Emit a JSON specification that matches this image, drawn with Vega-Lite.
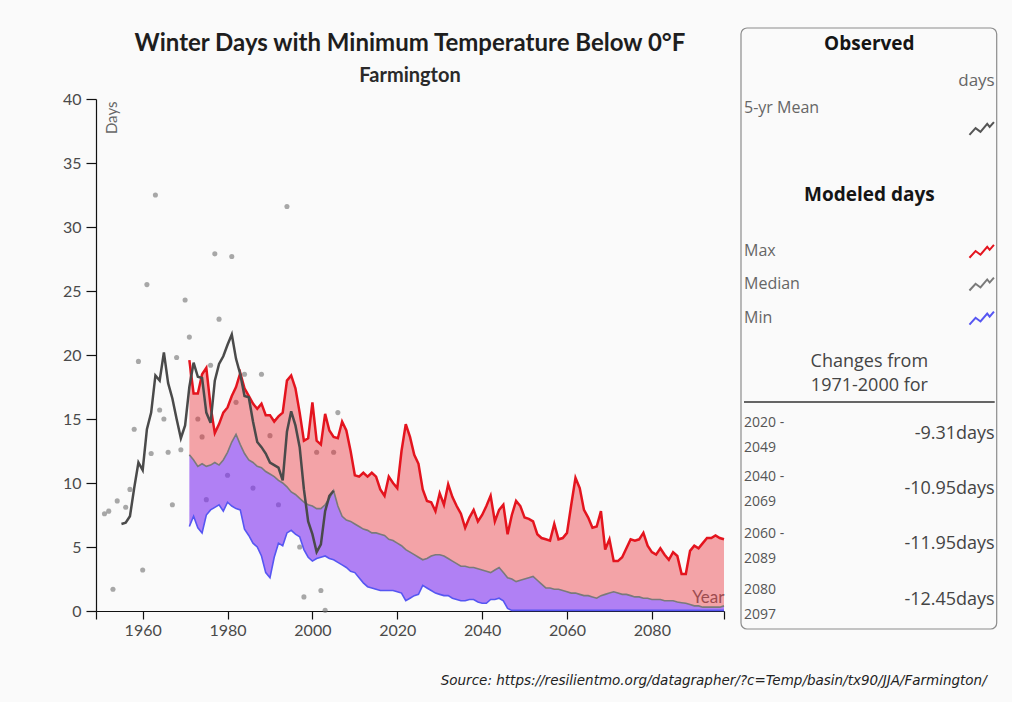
{
  "$schema": "https://vega.github.io/schema/vega-lite/v6.json",
  "background": "#fafafa",
  "padding": {"left": 62, "top": 27, "right": 14, "bottom": 14},
  "width": 628,
  "height": 512,
  "title": {
    "text": "Winter Days with Minimum Temperature Below 0°F",
    "subtitle": "Farmington",
    "anchor": "middle",
    "font": "Lato", "fontSize": 24, "fontWeight": "bold", "color": "#1e1e1e",
    "subtitleFont": "Lato", "subtitleFontSize": 20, "subtitleFontWeight": "bold", "subtitleColor": "#2a2a2a",
    "subtitlePadding": 10, "offset": -59
  },
  "datasets": {
    "obs": [
      {"year": 1951, "days": 7.6}, {"year": 1952, "days": 7.8}, {"year": 1953, "days": 1.7}, {"year": 1954, "days": 8.6},
      {"year": 1956, "days": 8.1}, {"year": 1957, "days": 9.5}, {"year": 1958, "days": 14.2}, {"year": 1959, "days": 19.5},
      {"year": 1960, "days": 3.2}, {"year": 1961, "days": 25.5}, {"year": 1962, "days": 12.3}, {"year": 1963, "days": 32.5},
      {"year": 1964, "days": 15.7}, {"year": 1965, "days": 15.0}, {"year": 1966, "days": 12.4}, {"year": 1967, "days": 8.3},
      {"year": 1968, "days": 19.8}, {"year": 1969, "days": 12.6}, {"year": 1970, "days": 24.3}, {"year": 1971, "days": 21.4},
      {"year": 1973, "days": 15.0}, {"year": 1974, "days": 13.6}, {"year": 1975, "days": 8.7}, {"year": 1976, "days": 19.2},
      {"year": 1977, "days": 27.9}, {"year": 1978, "days": 22.8}, {"year": 1980, "days": 10.6}, {"year": 1981, "days": 27.7},
      {"year": 1982, "days": 16.3}, {"year": 1984, "days": 18.5}, {"year": 1986, "days": 9.6}, {"year": 1988, "days": 18.5},
      {"year": 1990, "days": 13.7}, {"year": 1992, "days": 8.3}, {"year": 1994, "days": 31.6}, {"year": 1997, "days": 5.0},
      {"year": 1998, "days": 1.1}, {"year": 2001, "days": 12.4}, {"year": 2002, "days": 1.6}, {"year": 2003, "days": 0.05},
      {"year": 2005, "days": 12.4}, {"year": 2006, "days": 15.5}
    ],
    "mean5": [
      {"year": 1955, "days": 6.8}, {"year": 1956, "days": 6.9}, {"year": 1957, "days": 7.4}, {"year": 1958, "days": 9.6},
      {"year": 1959, "days": 11.6}, {"year": 1960, "days": 11.0}, {"year": 1961, "days": 14.2}, {"year": 1962, "days": 15.5},
      {"year": 1963, "days": 18.4}, {"year": 1964, "days": 18.0}, {"year": 1965, "days": 20.2}, {"year": 1966, "days": 17.8},
      {"year": 1967, "days": 16.6}, {"year": 1968, "days": 15.0}, {"year": 1969, "days": 13.5}, {"year": 1970, "days": 14.5},
      {"year": 1971, "days": 17.5}, {"year": 1972, "days": 19.4}, {"year": 1973, "days": 18.3}, {"year": 1974, "days": 18.2},
      {"year": 1975, "days": 15.5}, {"year": 1976, "days": 14.7}, {"year": 1977, "days": 18.0}, {"year": 1978, "days": 19.3},
      {"year": 1979, "days": 19.9}, {"year": 1980, "days": 20.8}, {"year": 1981, "days": 21.6}, {"year": 1982, "days": 19.7},
      {"year": 1983, "days": 18.5}, {"year": 1984, "days": 16.8}, {"year": 1985, "days": 16.7}, {"year": 1986, "days": 14.8},
      {"year": 1987, "days": 13.2}, {"year": 1988, "days": 12.8}, {"year": 1989, "days": 12.3}, {"year": 1990, "days": 11.6},
      {"year": 1991, "days": 11.4}, {"year": 1992, "days": 11.2}, {"year": 1993, "days": 10.2}, {"year": 1994, "days": 14.0},
      {"year": 1995, "days": 15.6}, {"year": 1996, "days": 14.5}, {"year": 1997, "days": 12.8}, {"year": 1998, "days": 9.5},
      {"year": 1999, "days": 7.0}, {"year": 2000, "days": 6.0}, {"year": 2001, "days": 4.6}, {"year": 2002, "days": 5.2},
      {"year": 2003, "days": 7.8}, {"year": 2004, "days": 9.0}, {"year": 2005, "days": 9.4}
    ],
    "model": [
      {"year": 1971, "min": 6.6, "median": 12.2, "max": 19.6},
      {"year": 1972, "min": 7.4, "median": 11.8, "max": 17.0},
      {"year": 1973, "min": 6.5, "median": 11.3, "max": 17.0},
      {"year": 1974, "min": 6.1, "median": 11.5, "max": 18.5},
      {"year": 1975, "min": 7.5, "median": 11.3, "max": 19.0},
      {"year": 1976, "min": 7.9, "median": 11.4, "max": 16.0},
      {"year": 1977, "min": 8.1, "median": 11.6, "max": 13.9},
      {"year": 1978, "min": 8.3, "median": 11.4, "max": 14.6},
      {"year": 1979, "min": 7.8, "median": 11.8, "max": 15.5},
      {"year": 1980, "min": 8.5, "median": 12.4, "max": 15.9},
      {"year": 1981, "min": 8.2, "median": 13.2, "max": 16.8},
      {"year": 1982, "min": 8.0, "median": 13.8, "max": 17.5},
      {"year": 1983, "min": 7.9, "median": 13.0, "max": 18.6},
      {"year": 1984, "min": 6.4, "median": 12.3, "max": 17.4},
      {"year": 1985, "min": 5.9, "median": 11.8, "max": 16.8},
      {"year": 1986, "min": 5.3, "median": 11.6, "max": 16.2},
      {"year": 1987, "min": 5.0, "median": 11.3, "max": 15.8},
      {"year": 1988, "min": 4.3, "median": 11.2, "max": 16.2},
      {"year": 1989, "min": 3.0, "median": 10.9, "max": 15.3},
      {"year": 1990, "min": 2.6, "median": 10.7, "max": 15.3},
      {"year": 1991, "min": 4.2, "median": 10.5, "max": 14.8},
      {"year": 1992, "min": 5.3, "median": 10.2, "max": 15.2},
      {"year": 1993, "min": 5.1, "median": 10.0, "max": 15.5},
      {"year": 1994, "min": 6.1, "median": 9.7, "max": 18.0},
      {"year": 1995, "min": 6.3, "median": 9.3, "max": 18.4},
      {"year": 1996, "min": 6.0, "median": 9.1, "max": 17.4},
      {"year": 1997, "min": 5.8, "median": 8.8, "max": 15.5},
      {"year": 1998, "min": 4.8, "median": 8.5, "max": 13.3},
      {"year": 1999, "min": 4.2, "median": 8.3, "max": 13.5},
      {"year": 2000, "min": 3.9, "median": 8.2, "max": 16.3},
      {"year": 2001, "min": 4.1, "median": 8.0, "max": 13.3},
      {"year": 2002, "min": 4.2, "median": 8.0, "max": 13.0},
      {"year": 2003, "min": 4.3, "median": 8.3, "max": 15.4},
      {"year": 2004, "min": 4.1, "median": 8.8, "max": 14.1},
      {"year": 2005, "min": 4.0, "median": 9.4, "max": 13.6},
      {"year": 2006, "min": 3.8, "median": 8.2, "max": 13.5},
      {"year": 2007, "min": 3.6, "median": 7.4, "max": 14.8},
      {"year": 2008, "min": 3.4, "median": 7.1, "max": 14.1},
      {"year": 2009, "min": 3.1, "median": 7.0, "max": 12.5},
      {"year": 2010, "min": 3.0, "median": 6.8, "max": 10.6},
      {"year": 2011, "min": 2.6, "median": 6.6, "max": 10.5},
      {"year": 2012, "min": 2.2, "median": 6.4, "max": 10.8},
      {"year": 2013, "min": 1.9, "median": 6.3, "max": 10.5},
      {"year": 2014, "min": 1.8, "median": 6.1, "max": 10.8},
      {"year": 2015, "min": 1.7, "median": 6.1, "max": 10.5},
      {"year": 2016, "min": 1.6, "median": 6.0, "max": 9.5},
      {"year": 2017, "min": 1.6, "median": 5.9, "max": 9.0},
      {"year": 2018, "min": 1.6, "median": 5.6, "max": 10.5},
      {"year": 2019, "min": 1.6, "median": 5.5, "max": 10.0},
      {"year": 2020, "min": 1.5, "median": 5.3, "max": 9.6},
      {"year": 2021, "min": 1.4, "median": 5.1, "max": 12.5},
      {"year": 2022, "min": 0.8, "median": 4.8, "max": 14.6},
      {"year": 2023, "min": 1.0, "median": 4.6, "max": 13.6},
      {"year": 2024, "min": 1.2, "median": 4.4, "max": 12.2},
      {"year": 2025, "min": 1.3, "median": 4.2, "max": 11.5},
      {"year": 2026, "min": 2.0, "median": 4.0, "max": 9.5},
      {"year": 2027, "min": 1.8, "median": 4.1, "max": 8.6},
      {"year": 2028, "min": 1.6, "median": 4.3, "max": 8.5},
      {"year": 2029, "min": 1.4, "median": 4.4, "max": 7.8},
      {"year": 2030, "min": 1.3, "median": 4.4, "max": 9.2},
      {"year": 2031, "min": 1.2, "median": 4.3, "max": 8.3},
      {"year": 2032, "min": 1.2, "median": 4.1, "max": 9.9},
      {"year": 2033, "min": 1.0, "median": 3.9, "max": 8.9},
      {"year": 2034, "min": 0.9, "median": 3.7, "max": 8.2},
      {"year": 2035, "min": 0.8, "median": 3.5, "max": 7.6},
      {"year": 2036, "min": 0.8, "median": 3.5, "max": 6.5},
      {"year": 2037, "min": 0.9, "median": 3.4, "max": 7.3},
      {"year": 2038, "min": 0.9, "median": 3.4, "max": 7.9},
      {"year": 2039, "min": 0.7, "median": 3.3, "max": 7.0},
      {"year": 2040, "min": 0.6, "median": 3.2, "max": 7.5},
      {"year": 2041, "min": 0.6, "median": 3.1, "max": 8.2},
      {"year": 2042, "min": 0.9, "median": 3.0, "max": 9.0},
      {"year": 2043, "min": 0.9, "median": 3.2, "max": 7.0},
      {"year": 2044, "min": 1.0, "median": 3.4, "max": 7.9},
      {"year": 2045, "min": 0.8, "median": 3.0, "max": 8.3},
      {"year": 2046, "min": 0.2, "median": 2.6, "max": 6.0},
      {"year": 2047, "min": 0.05, "median": 2.5, "max": 7.5},
      {"year": 2048, "min": 0.05, "median": 2.3, "max": 8.6},
      {"year": 2049, "min": 0.05, "median": 2.4, "max": 8.2},
      {"year": 2050, "min": 0.05, "median": 2.5, "max": 7.3},
      {"year": 2051, "min": 0.05, "median": 2.6, "max": 7.2},
      {"year": 2052, "min": 0.05, "median": 2.7, "max": 7.0},
      {"year": 2053, "min": 0.05, "median": 2.4, "max": 6.0},
      {"year": 2054, "min": 0.05, "median": 2.1, "max": 5.7},
      {"year": 2055, "min": 0.05, "median": 1.8, "max": 5.6},
      {"year": 2056, "min": 0.05, "median": 1.8, "max": 5.5},
      {"year": 2057, "min": 0.05, "median": 1.7, "max": 6.8},
      {"year": 2058, "min": 0.05, "median": 1.7, "max": 5.6},
      {"year": 2059, "min": 0.05, "median": 1.6, "max": 5.7},
      {"year": 2060, "min": 0.05, "median": 1.5, "max": 6.1},
      {"year": 2061, "min": 0.05, "median": 1.4, "max": 8.3},
      {"year": 2062, "min": 0.05, "median": 1.4, "max": 10.4},
      {"year": 2063, "min": 0.05, "median": 1.3, "max": 9.6},
      {"year": 2064, "min": 0.05, "median": 1.2, "max": 7.9},
      {"year": 2065, "min": 0.05, "median": 1.2, "max": 7.3},
      {"year": 2066, "min": 0.05, "median": 1.1, "max": 6.5},
      {"year": 2067, "min": 0.05, "median": 1.0, "max": 6.6},
      {"year": 2068, "min": 0.05, "median": 1.2, "max": 7.8},
      {"year": 2069, "min": 0.05, "median": 1.3, "max": 4.8},
      {"year": 2070, "min": 0.05, "median": 1.4, "max": 5.6},
      {"year": 2071, "min": 0.05, "median": 1.5, "max": 3.9},
      {"year": 2072, "min": 0.05, "median": 1.4, "max": 3.9},
      {"year": 2073, "min": 0.05, "median": 1.3, "max": 4.2},
      {"year": 2074, "min": 0.05, "median": 1.3, "max": 4.9},
      {"year": 2075, "min": 0.05, "median": 1.2, "max": 5.6},
      {"year": 2076, "min": 0.05, "median": 1.1, "max": 5.5},
      {"year": 2077, "min": 0.05, "median": 1.1, "max": 5.6},
      {"year": 2078, "min": 0.05, "median": 1.0, "max": 6.1},
      {"year": 2079, "min": 0.05, "median": 1.0, "max": 5.1},
      {"year": 2080, "min": 0.05, "median": 0.9, "max": 4.6},
      {"year": 2081, "min": 0.05, "median": 0.9, "max": 4.4},
      {"year": 2082, "min": 0.05, "median": 0.9, "max": 4.9},
      {"year": 2083, "min": 0.05, "median": 0.8, "max": 4.4},
      {"year": 2084, "min": 0.05, "median": 0.8, "max": 4.0},
      {"year": 2085, "min": 0.05, "median": 0.8, "max": 4.6},
      {"year": 2086, "min": 0.05, "median": 0.7, "max": 4.3},
      {"year": 2087, "min": 0.05, "median": 0.65, "max": 2.9},
      {"year": 2088, "min": 0.05, "median": 0.6, "max": 2.9},
      {"year": 2089, "min": 0.05, "median": 0.5, "max": 4.7},
      {"year": 2090, "min": 0.05, "median": 0.4, "max": 5.1},
      {"year": 2091, "min": 0.05, "median": 0.4, "max": 4.9},
      {"year": 2092, "min": 0.05, "median": 0.3, "max": 5.3},
      {"year": 2093, "min": 0.05, "median": 0.3, "max": 5.7},
      {"year": 2094, "min": 0.05, "median": 0.3, "max": 5.7},
      {"year": 2095, "min": 0.05, "median": 0.3, "max": 5.9},
      {"year": 2096, "min": 0.05, "median": 0.3, "max": 5.7},
      {"year": 2097, "min": 0.05, "median": 0.4, "max": 5.6}
    ],
    "panel": [
      {"kind": "header", "label": "Observed", "line": 2.4, "col": "center"},
      {"kind": "unit", "label": "days", "line": 8, "col": "right"},
      {"kind": "item", "label": "5-yr Mean", "line": 12, "col": "left"},
      {"kind": "icon", "label": "5-yr Mean", "line": 15, "col": "right", "series": "mean"},
      {"kind": "header", "label": "Modeled days", "line": 25, "col": "center"},
      {"kind": "item", "label": "Max", "line": 33.4, "col": "left"},
      {"kind": "icon", "label": "Max", "line": 33.4, "col": "right", "series": "max"},
      {"kind": "item", "label": "Median", "line": 38.3, "col": "left"},
      {"kind": "icon", "label": "Median", "line": 38.3, "col": "right", "series": "median"},
      {"kind": "item", "label": "Min", "line": 43.4, "col": "left"},
      {"kind": "icon", "label": "Min", "line": 43.4, "col": "right", "series": "min"},
      {"kind": "note", "label": "Changes from", "line": 50, "col": "center"},
      {"kind": "note", "label": "1971-2000 for", "line": 53.6, "col": "center"},
      {"kind": "rule", "label": "", "line": 56, "col": "left", "col2": "right"},
      {"kind": "period", "label": "2020 -\n2049", "line": 59.1, "col": "left"},
      {"kind": "change", "label": "-9.31days", "line": 60.8, "col": "right"},
      {"kind": "period", "label": "2040 -\n2069", "line": 67.3, "col": "left"},
      {"kind": "change", "label": "-10.95days", "line": 69, "col": "right"},
      {"kind": "period", "label": "2060 -\n2089", "line": 75.7, "col": "left"},
      {"kind": "change", "label": "-11.95days", "line": 77.2, "col": "right"},
      {"kind": "period", "label": "2080\n2097", "line": 84.2, "col": "left"},
      {"kind": "change", "label": "-12.45days", "line": 85.6, "col": "right"},
      {"kind": "source", "label": "Source: https://resilientmo.org/datagrapher/?c=Temp/basin/tx90/JJA/Farmington/", "line": 97.8, "col": "right"}
    ]
  },
  "resolve": {"scale": {"x": "independent", "y": "independent"}},
  "layer": [
    {
      "encoding": {
        "x": {
          "field": "year", "type": "quantitative", "title": "Year",
          "scale": {"domain": [1949, 2097], "nice": false, "zero": false},
          "axis": {
            "values": [1949, 1960, 1980, 2000, 2020, 2040, 2060, 2080, 2097],
            "format": "d",
            "labelExpr": "datum.value % 20 == 0 ? datum.label : ''",
            "tickSize": 8, "labelPadding": 3,
            "titleX": 628, "titleY": -5, "titleAlign": "right", "titleBaseline": "bottom",
            "titleFontSize": 17, "titleColor": "#6a6a6a"
          }
        }
      },
      "layer": [
        {
          "data": {"name": "obs"},
          "mark": {"type": "circle", "size": 26, "color": "#707070", "opacity": 0.6},
          "encoding": {
            "y": {"field": "days", "type": "quantitative", "title": "Days", "scale": {"domain": [0, 40], "nice": false},
                  "axis": {"values": [0, 5, 10, 15, 20, 25, 30, 35, 40], "tickSize": 10, "labelPadding": 5, "titleX": 8, "titleY": 2, "titleAngle": -90, "titleAlign": "right", "titleBaseline": "top", "titleFontSize": 15}}
          }
        },
        {
          "data": {"name": "model"},
          "mark": {"type": "area", "color": "#e8202a", "opacity": 0.4},
          "encoding": {
            "y": {"field": "median", "type": "quantitative", "title": "Days", "scale": {"domain": [0, 40], "nice": false},
                  "axis": {"values": [0, 5, 10, 15, 20, 25, 30, 35, 40], "tickSize": 10, "labelPadding": 5, "titleX": 8, "titleY": 2, "titleAngle": -90, "titleAlign": "right", "titleBaseline": "top", "titleFontSize": 15}},
            "y2": {"field": "max"}
          }
        },
        {
          "data": {"name": "model"},
          "mark": {"type": "area", "color": "#7f2ff0", "opacity": 0.6},
          "encoding": {
            "y": {"field": "min", "type": "quantitative", "title": "Days", "scale": {"domain": [0, 40], "nice": false},
                  "axis": {"values": [0, 5, 10, 15, 20, 25, 30, 35, 40], "tickSize": 10, "labelPadding": 5, "titleX": 8, "titleY": 2, "titleAngle": -90, "titleAlign": "right", "titleBaseline": "top", "titleFontSize": 15}},
            "y2": {"field": "median"}
          }
        },
        {
          "data": {"name": "model"},
          "mark": {"type": "line", "color": "#e4141e", "strokeWidth": 2.5},
          "encoding": {
            "y": {"field": "max", "type": "quantitative", "title": "Days", "scale": {"domain": [0, 40], "nice": false},
                  "axis": {"values": [0, 5, 10, 15, 20, 25, 30, 35, 40], "tickSize": 10, "labelPadding": 5, "titleX": 8, "titleY": 2, "titleAngle": -90, "titleAlign": "right", "titleBaseline": "top", "titleFontSize": 15}}
          }
        },
        {
          "data": {"name": "model"},
          "mark": {"type": "line", "color": "#7a7a7a", "strokeWidth": 1.6},
          "encoding": {
            "y": {"field": "median", "type": "quantitative", "title": "Days", "scale": {"domain": [0, 40], "nice": false},
                  "axis": {"values": [0, 5, 10, 15, 20, 25, 30, 35, 40], "tickSize": 10, "labelPadding": 5, "titleX": 8, "titleY": 2, "titleAngle": -90, "titleAlign": "right", "titleBaseline": "top", "titleFontSize": 15}}
          }
        },
        {
          "data": {"name": "model"},
          "mark": {"type": "line", "color": "#5656f2", "strokeWidth": 1.6},
          "encoding": {
            "y": {"field": "min", "type": "quantitative", "title": "Days", "scale": {"domain": [0, 40], "nice": false},
                  "axis": {"values": [0, 5, 10, 15, 20, 25, 30, 35, 40], "tickSize": 10, "labelPadding": 5, "titleX": 8, "titleY": 2, "titleAngle": -90, "titleAlign": "right", "titleBaseline": "top", "titleFontSize": 15}}
          }
        },
        {
          "data": {"name": "mean5"},
          "mark": {"type": "line", "color": "#4a4a4a", "strokeWidth": 2.5},
          "encoding": {
            "y": {"field": "days", "type": "quantitative", "title": "Days", "scale": {"domain": [0, 40], "nice": false},
                  "axis": {"values": [0, 5, 10, 15, 20, 25, 30, 35, 40], "tickSize": 10, "labelPadding": 5, "titleX": 8, "titleY": 2, "titleAngle": -90, "titleAlign": "right", "titleBaseline": "top", "titleFontSize": 15}}
          }
        }
      ]
    },
    {
      "data": {"name": "panel"},
      "encoding": {
        "x": {"field": "col", "type": "nominal", "scale": {"type": "point", "domain": ["left", "center", "right"], "range": [648, 898.7], "padding": 0}, "axis": null},
        "y": {"field": "line", "type": "quantitative", "scale": {"domain": [0, 90], "range": [-71, 530], "nice": false, "zero": false}, "axis": null}
      },
      "layer": [
        {
          "data": {"values": [{"top": 0, "bottom": 90, "from": "left", "to": "right"}]},
          "mark": {"type": "rect", "fill": null, "fillOpacity": 0, "stroke": "#8c8c8c", "strokeWidth": 1.2, "cornerRadius": 6, "xOffset": -3, "x2Offset": 2},
          "encoding": {
            "x": {"field": "from", "type": "nominal"},
            "x2": {"field": "to"},
            "y": {"field": "top", "type": "quantitative"},
            "y2": {"field": "bottom"}
          }
        },
        {
          "transform": [{"filter": "datum.kind == 'header'"}],
          "mark": {"type": "text", "font": "Open Sans", "fontWeight": "bold", "fontSize": 19, "color": "#151515", "align": "center", "baseline": "middle"},
          "encoding": {"text": {"field": "label"}}
        },
        {
          "transform": [{"filter": "datum.kind == 'unit'"}],
          "mark": {"type": "text", "font": "Open Sans", "fontSize": 17, "color": "#666", "align": "right", "baseline": "middle"},
          "encoding": {"text": {"field": "label"}}
        },
        {
          "transform": [{"filter": "datum.kind == 'item'"}],
          "mark": {"type": "text", "font": "Open Sans", "fontSize": 16, "color": "#666", "align": "left", "baseline": "middle"},
          "encoding": {"text": {"field": "label"}}
        },
        {
          "transform": [{"filter": "datum.kind == 'icon'"}],
          "mark": {"type": "point", "shape": "M-1,0.55L-0.5,0L-0.1,0.3L0.45,-0.35L0.65,-0.1L1,-0.5", "size": 600, "filled": false, "strokeWidth": 2, "opacity": 1, "xOffset": -13},
          "encoding": {
            "color": {"field": "series", "type": "nominal", "scale": {"domain": ["mean", "max", "median", "min"], "range": ["#555555", "#e4141e", "#7a7a7a", "#5656f2"]}, "legend": null}
          }
        },
        {
          "transform": [{"filter": "datum.kind == 'note'"}],
          "mark": {"type": "text", "font": "Open Sans", "fontSize": 18, "color": "#444", "align": "center", "baseline": "middle"},
          "encoding": {"text": {"field": "label"}}
        },
        {
          "transform": [{"filter": "datum.kind == 'rule'"}],
          "mark": {"type": "rule", "color": "#333", "strokeWidth": 1.5},
          "encoding": {"x2": {"field": "col2"}}
        },
        {
          "transform": [{"filter": "datum.kind == 'period'"}],
          "mark": {"type": "text", "font": "Open Sans", "fontSize": 14, "color": "#555", "align": "left", "baseline": "middle", "lineBreak": "\n", "lineHeight": 25},
          "encoding": {"text": {"field": "label"}}
        },
        {
          "transform": [{"filter": "datum.kind == 'change'"}],
          "mark": {"type": "text", "font": "Open Sans", "fontSize": 18, "color": "#444", "align": "right", "baseline": "middle"},
          "encoding": {"text": {"field": "label"}}
        },
        {
          "transform": [{"filter": "datum.kind == 'source'"}],
          "mark": {"type": "text", "font": "DejaVu Sans", "fontStyle": "italic", "fontSize": 13.5, "color": "#222", "align": "right", "baseline": "middle", "xOffset": -8},
          "encoding": {"text": {"field": "label"}}
        }
      ]
    }
  ],
  "config": {
    "view": {"stroke": null},
    "font": "Lato",
    "axis": {
      "grid": false,
      "domainColor": "#111", "tickColor": "#111", "domainWidth": 1.2, "tickWidth": 1.2,
      "labelFont": "Lato", "labelFontSize": 16, "labelColor": "#4a4a4a",
      "titleFont": "Lato", "titleFontWeight": "normal", "titleFontSize": 14, "titleColor": "#666"
    }
  }
}
